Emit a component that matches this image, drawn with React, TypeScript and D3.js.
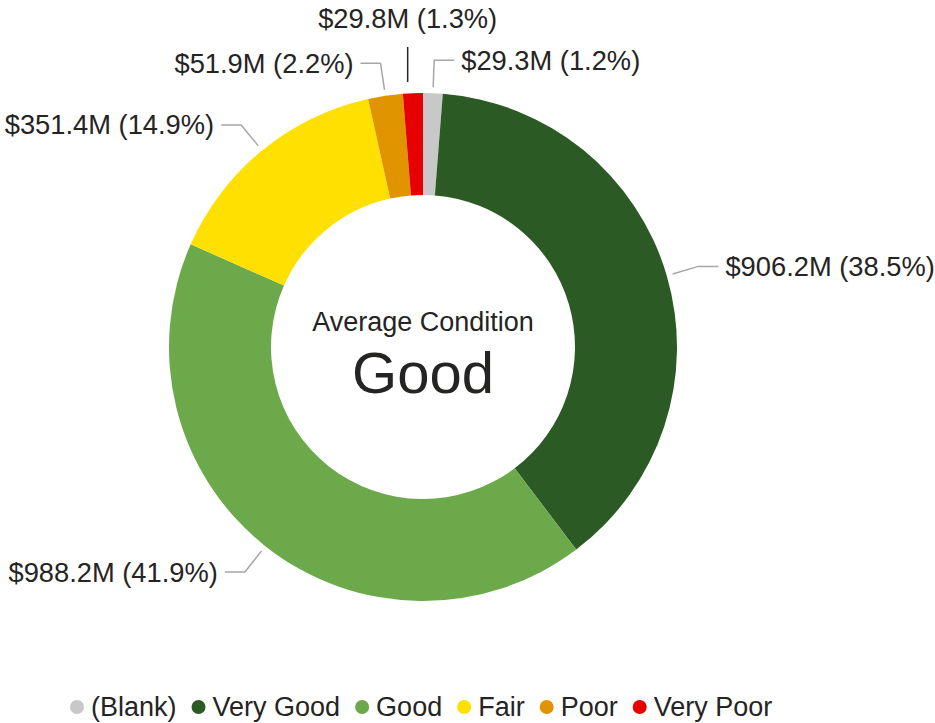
import React, { useEffect, useRef } from "react";
import * as d3 from "d3";

// condition buckets, clockwise from 12 o'clock
const categories = ["(Blank)", "Very Good", "Good", "Fair", "Poor", "Very Poor"];
const values = [29.3, 906.2, 988.2, 351.4, 51.9, 29.8]; // $M
const colors = ["#C8C8C8", "#2B5A25", "#6CA94B", "#FFE000", "#E09500", "#E60000"];
// labels that Power BI pushed above the ring to dodge their neighbours
const liftedLabels = ["Very Poor"];

const centerTitle = "Average Condition";
const centerValue = "Good";

const WIDTH = 935;
const HEIGHT = 723;
const CX = 423;
const CY = 347;
const OUTER = 254;
const INNER = 152;
const FONT = "'Liberation Sans', Arial, sans-serif";
const TEXT = "#252423";
const LABEL_SIZE = 27.3;

const App = () => {
  const ref = useRef<SVGGElement>(null);
  const legendRef = useRef<SVGGElement>(null);

  useEffect(() => {
    const data = categories.map((c, i) => ({ name: c, value: values[i], color: colors[i] }));
    const total = d3.sum(values);
    const pie = d3
      .pie<any>()
      .value((d) => d.value)
      .sort(null);
    const arc = d3.arc<any>().innerRadius(INNER).outerRadius(OUTER);
    const slices = pie(data);
    const at = (a: number, r: number) => [Math.sin(a) * r, -Math.cos(a) * r];

    const g = d3.select(ref.current);
    g.selectAll("*").remove();

    g.selectAll("path.arc")
      .data(slices)
      .enter()
      .append("path")
      .attr("class", "arc")
      .attr("d", arc)
      .attr("fill", (d) => d.data.color);

    const labelText = (d) =>
      `$${d.data.value.toFixed(1)}M (${((d.data.value / total) * 100).toFixed(1)}%)`;

    slices.forEach((d) => {
      const mid = (d.startAngle + d.endAngle) / 2;
      if (liftedLabels.includes(d.data.name)) {
        const [x] = at(mid, OUTER + 6);
        const lx = x - 5;
        g.append("line")
          .attr("x1", lx)
          .attr("x2", lx)
          .attr("y1", -(OUTER + 11))
          .attr("y2", -(OUTER + 46))
          .attr("stroke", TEXT)
          .attr("stroke-width", 1.5);
        g.append("text")
          .attr("x", lx)
          .attr("y", -(OUTER + 75))
          .attr("text-anchor", "middle")
          .attr("dominant-baseline", "central")
          .attr("font-family", FONT)
          .attr("font-size", LABEL_SIZE)
          .attr("fill", TEXT)
          .text(labelText(d));
        return;
      }
      const side = Math.sin(mid) >= 0 ? 1 : -1;
      const p0 = at(mid, OUTER + 6);
      const p1 = at(mid, OUTER + 33);
      const p2 = [p1[0] + side * 20, p1[1]];
      g.append("polyline")
        .attr("points", [p0, p1, p2].map((p) => p.join(",")).join(" "))
        .attr("fill", "none")
        .attr("stroke", "#A6A6A6")
        .attr("stroke-width", 1.5);
      g.append("text")
        .attr("x", p2[0] + side * 7)
        .attr("y", p2[1])
        .attr("text-anchor", side > 0 ? "start" : "end")
        .attr("dominant-baseline", "central")
        .attr("font-family", FONT)
        .attr("font-size", LABEL_SIZE)
        .attr("fill", TEXT)
        .text(labelText(d));
    });

    g.append("text")
      .attr("x", 0)
      .attr("y", -25)
      .attr("text-anchor", "middle")
      .attr("dominant-baseline", "central")
      .attr("font-family", FONT)
      .attr("font-size", 27)
      .attr("fill", TEXT)
      .text(centerTitle);
    g.append("text")
      .attr("x", 0)
      .attr("y", 46)
      .attr("text-anchor", "middle")
      .attr("font-family", FONT)
      .attr("font-size", 58)
      .attr("fill", TEXT)
      .text(centerValue);

    // legend laid out from measured text widths
    const lg = d3.select(legendRef.current);
    lg.selectAll("*").remove();
    let x = 77;
    data.forEach((d) => {
      lg.append("circle").attr("cx", x).attr("cy", 707).attr("r", 7).attr("fill", d.color);
      const t = lg
        .append("text")
        .attr("x", x + 14)
        .attr("y", 707)
        .attr("dominant-baseline", "central")
        .attr("font-family", FONT)
        .attr("font-size", 27)
        .attr("fill", TEXT)
        .text(d.name);
      const w = (t.node() as SVGTextElement).getComputedTextLength();
      x = x + 14 + w + 22;
    });
  }, []);

  return (
    <svg
      width={WIDTH}
      height={HEIGHT}
      style={{ position: "absolute", left: 0, top: 0, background: "#fff" }}
    >
      <g ref={ref} transform={`translate(${CX} ${CY})`} />
      <g ref={legendRef} />
    </svg>
  );
};

export default App;
